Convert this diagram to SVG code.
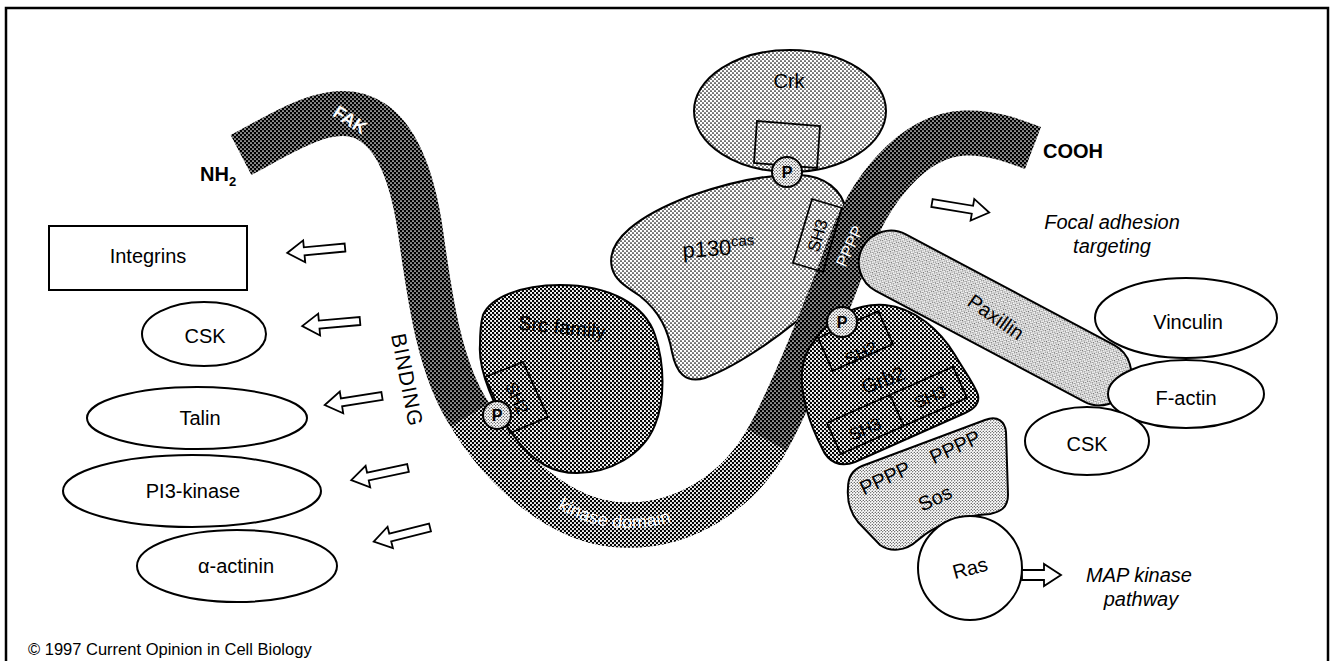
<svg xmlns="http://www.w3.org/2000/svg" xmlns:xlink="http://www.w3.org/1999/xlink" width="1334" height="661" viewBox="0 0 1334 661">
  <style>
    .lbl { font-family: "Liberation Sans", Arial, Helvetica, sans-serif; font-size: 20px; fill: #000; text-anchor: middle; }
    .sm { font-size: 17px; }
    .ital { font-style: italic; }
    .bold { font-weight: bold; }
    .wht { fill: #fff; }
    .plain { fill: #fff; stroke: #000; stroke-width: 2; }
    .edge { stroke: #000; stroke-width: 2; }
    .box { fill: none; stroke: #000; stroke-width: 1.8; }
    .arrow { fill: #fff; stroke: #000; stroke-width: 1.8; stroke-linejoin: miter; }
  </style>
  <defs>
    <!-- halftone screens -->
    <pattern id="htBand" width="4" height="4" patternUnits="userSpaceOnUse">
      <rect width="4" height="4" fill="#000"/>
      <circle cx="1" cy="1" r="0.85" fill="#fff"/>
      <circle cx="3" cy="3" r="0.85" fill="#fff"/>
    </pattern>
    <pattern id="htKinase" width="4" height="4" patternUnits="userSpaceOnUse">
      <rect width="4" height="4" fill="#000"/>
      <circle cx="1" cy="1" r="1.1" fill="#fff"/>
      <circle cx="3" cy="3" r="1.1" fill="#fff"/>
    </pattern>
    <pattern id="htDark" width="4" height="4" patternUnits="userSpaceOnUse">
      <rect width="4" height="4" fill="#fff"/>
      <circle cx="1" cy="1" r="1.25" fill="#000"/>
      <circle cx="3" cy="3" r="1.25" fill="#000"/>
    </pattern>
    <pattern id="htMid" width="4" height="4" patternUnits="userSpaceOnUse">
      <rect width="4" height="4" fill="#fff"/>
      <circle cx="1" cy="1" r="0.85" fill="#000"/>
      <circle cx="3" cy="3" r="0.85" fill="#000"/>
    </pattern>
    <pattern id="htLight" width="3" height="3" patternUnits="userSpaceOnUse">
      <rect width="3" height="3" fill="#fff"/>
      <circle cx="0.75" cy="0.75" r="0.6" fill="#000"/>
      <circle cx="2.25" cy="2.25" r="0.6" fill="#000"/>
    </pattern>
    <!-- hollow block arrow, tail at origin, pointing along +x -->
    <path id="arrL" d="M0,-4 H41 V-11 L58,0 L41,11 V4 H0 Z"/>
    <!-- centre line of the kinase domain stretch of FAK -->
    <path id="kinasePath" d="M470,415 C500,465 560,525 625,525 C685,527 740,490 767,440"/>
  </defs>

  <!-- frame -->
  <path d="M6,661 V8 H1328 V661" fill="none" stroke="#000" stroke-width="2.5"/>

  <!-- Crk -->
  <g id="crk">
    <ellipse cx="790" cy="111" rx="96" ry="61" fill="url(#htMid)" class="edge"/>
    <polygon points="757,121 820,126 817,168 754,163" class="box"/>
    <text x="789" y="88" class="lbl">Crk</text>
  </g>

  <!-- p130cas -->
  <g id="p130cas">
    <path d="M612,268 C605,240 640,215 690,196 C730,182 770,174 800,175 C825,176 842,190 846,210 L850,240 L820,300 C790,330 740,365 705,378 C685,384 676,372 672,352 C668,330 660,312 640,296 C625,286 615,280 612,268 Z" fill="url(#htMid)" class="edge"/>
    <text x="683" y="258" class="lbl" style="text-anchor:start;font-size:22px" transform="rotate(-4 683 258)">p130<tspan dy="-8" style="font-size:15px">cas</tspan></text>
  </g>

  <!-- FAK backbone -->
  <g id="fak">
    <path d="M241,155 C285,132 335,97 372,122 C400,140 414,185 421,235 C430,300 440,370 470,415 C500,465 560,525 625,525 C685,527 740,490 767,440 C790,400 830,300 850,245 C868,195 910,135 965,133 C990,132 1012,140 1033,148" fill="none" stroke="url(#htBand)" stroke-width="45" stroke-linecap="butt"/>
    <use xlink:href="#kinasePath" href="#kinasePath" fill="none" stroke="url(#htKinase)" stroke-width="45" stroke-linecap="butt"/>
    <text class="lbl bold wht" style="font-size:18px" transform="translate(350,120) rotate(33)" y="6">FAK</text>
    <text class="lbl wht" style="font-size:18px" dy="3"><textPath xlink:href="#kinasePath" href="#kinasePath" startOffset="50%">kinase domain</textPath></text>
    <text class="lbl wht" style="font-size:16px" transform="translate(849,246) rotate(-65)" y="6">PPPP</text>
    <text x="200" y="181" class="lbl bold" style="text-anchor:start">NH<tspan dy="5" style="font-size:13px">2</tspan></text>
    <text x="1043" y="158" class="lbl bold" style="text-anchor:start">COOH</text>
  </g>

  <!-- SH3 domain of p130cas -->
  <g id="p130-sh3">
    <polygon points="812,199 842,208 823,272 793,263" fill="url(#htMid)" class="box"/>
    <text class="lbl sm" transform="translate(817.5,235.5) rotate(-73.5)" y="6">SH3</text>
  </g>

  <!-- Src family -->
  <g id="src">
    <path d="M483,315 C490,298 520,285 560,285 C610,285 645,305 655,335 C665,365 665,400 655,425 C643,455 610,473 577,473 C555,473 535,465 513,435 C495,410 478,370 480,345 C480,332 481,322 483,315 Z" fill="url(#htDark)" class="edge"/>
    <text class="lbl" transform="translate(562,327) rotate(6)" y="7">Src family</text>
    <polygon points="485,377 523,362 548,417 510,433" fill="url(#htDark)" class="box"/>
    <text class="lbl sm" transform="translate(517,398) rotate(65.6)" y="6">SH2</text>
    <circle cx="497" cy="415" r="14" fill="url(#htLight)" class="edge"/>
    <text x="497" y="421" class="lbl bold" style="font-size:16px">P</text>
  </g>

  <!-- Paxillin -->
  <g id="paxillin">
    <rect x="-150" y="-32" width="300" height="64" rx="32" fill="url(#htLight)" class="edge" transform="translate(995,318) rotate(28)"/>
    <text class="lbl" transform="translate(996,317) rotate(35)" y="7">Paxillin</text>
  </g>

  <!-- Grb2 -->
  <g id="grb2">
    <path d="M815,340 C830,315 860,303 885,305 C915,308 940,330 955,355 C965,372 975,385 978,395 C980,405 972,410 965,413 L855,462 C840,468 828,462 822,448 C810,425 800,395 802,372 C803,358 808,348 815,340 Z" fill="url(#htDark)" class="edge"/>
    <polygon points="818,338 878.3,311.1 892.9,344 832.7,370.9" class="box"/>
    <text class="lbl sm" transform="translate(861,353) rotate(-25)" y="6">SH2</text>
    <text class="lbl" transform="translate(883,380) rotate(-20)" y="7">Grb2</text>
    <polygon points="827,423 953.1,366.8 966.9,397.9 840.8,454.1" class="box"/>
    <line x1="890" y1="395" x2="903.9" y2="426" class="box"/>
    <text class="lbl sm" transform="translate(865,429) rotate(-23)" y="6">SH3</text>
    <text class="lbl sm" transform="translate(930,397) rotate(-23)" y="6">SH3</text>
    <circle cx="842" cy="322" r="15" fill="url(#htLight)" class="edge"/>
    <text x="842" y="328" class="lbl bold" style="font-size:16px">P</text>
  </g>

  <!-- phosphotyrosine linking Crk and p130cas -->
  <g id="p-crk">
    <circle cx="787" cy="172" r="15" fill="url(#htLight)" class="edge"/>
    <text x="787" y="178" class="lbl bold" style="font-size:16px">P</text>
  </g>

  <!-- Sos -->
  <g id="sos">
    <path d="M848,488 C848,478 852,470 862,466 L985,420 C998,415 1005,422 1006,432 L1008,495 C1008,508 1000,512 990,514 C960,516 935,525 918,540 C905,552 890,552 880,545 L858,522 C850,512 847,500 848,488 Z" fill="url(#htLight)" class="edge"/>
    <text class="lbl" transform="translate(885,478) rotate(-25)" y="7">PPPP</text>
    <text class="lbl" transform="translate(955,447) rotate(-25)" y="7">PPPP</text>
    <text class="lbl" transform="translate(935,498) rotate(-25)" y="7">Sos</text>
  </g>

  <!-- Ras -->
  <g id="ras">
    <circle cx="970" cy="568" r="52" class="plain"/>
    <text class="lbl" transform="translate(970,568) rotate(-15)" y="7">Ras</text>
  </g>

  <!-- focal adhesion partners -->
  <g id="vinculin">
    <ellipse cx="1186" cy="318" rx="91" ry="40" class="plain"/>
    <text x="1188" y="329" class="lbl">Vinculin</text>
  </g>
  <g id="f-actin">
    <ellipse cx="1186" cy="394" rx="78" ry="34" class="plain"/>
    <text x="1186" y="405" class="lbl">F-actin</text>
  </g>
  <g id="csk-right">
    <ellipse cx="1087" cy="441" rx="62" ry="34" class="plain"/>
    <text x="1087" y="451" class="lbl">CSK</text>
  </g>

  <!-- binding partners of the N-terminal region -->
  <g id="integrins">
    <rect x="49" y="226" width="198" height="64" class="plain"/>
    <text x="148" y="263" class="lbl">Integrins</text>
  </g>
  <g id="csk-left">
    <ellipse cx="204" cy="334" rx="62" ry="32" class="plain"/>
    <text x="205" y="343" class="lbl">CSK</text>
  </g>
  <g id="talin">
    <ellipse cx="197" cy="418" rx="110" ry="31" class="plain"/>
    <text x="200" y="425" class="lbl">Talin</text>
  </g>
  <g id="pi3-kinase">
    <ellipse cx="192" cy="491" rx="129" ry="36" class="plain"/>
    <text x="193" y="498" class="lbl">PI3-kinase</text>
  </g>
  <g id="alpha-actinin">
    <ellipse cx="237" cy="566" rx="100" ry="36" class="plain"/>
    <text x="236" y="573" class="lbl">α-actinin</text>
  </g>

  <!-- connectors -->
  <g id="connectors">
    <use xlink:href="#arrL" href="#arrL" class="arrow" transform="translate(345,247.5) rotate(174.6)"/>
    <use xlink:href="#arrL" href="#arrL" class="arrow" transform="translate(360,321) rotate(175)"/>
    <use xlink:href="#arrL" href="#arrL" class="arrow" transform="translate(382,396) rotate(171)"/>
    <use xlink:href="#arrL" href="#arrL" class="arrow" transform="translate(408,468) rotate(168)"/>
    <use xlink:href="#arrL" href="#arrL" class="arrow" transform="translate(430,527.5) rotate(166)"/>
    <use xlink:href="#arrL" href="#arrL" class="arrow" transform="translate(932,203) rotate(9.5)"/>
    <path d="M1022,570 H1044 V564 L1061,575 L1044,586 V580 H1022 Z" class="arrow"/>
  </g>

  <!-- annotations -->
  <g id="annotations">
    <text class="lbl" style="font-size:21px;letter-spacing:1px" transform="translate(407,380) rotate(79)" y="7">BINDING</text>
    <text x="1112" y="229" class="lbl ital">Focal adhesion</text>
    <text x="1112" y="253" class="lbl ital">targeting</text>
    <text x="1139" y="582" class="lbl ital">MAP kinase</text>
    <text x="1141" y="606" class="lbl ital">pathway</text>
    <text x="28" y="655" class="lbl" style="text-anchor:start;font-size:16.5px">© 1997 Current Opinion in Cell Biology</text>
  </g>
</svg>
